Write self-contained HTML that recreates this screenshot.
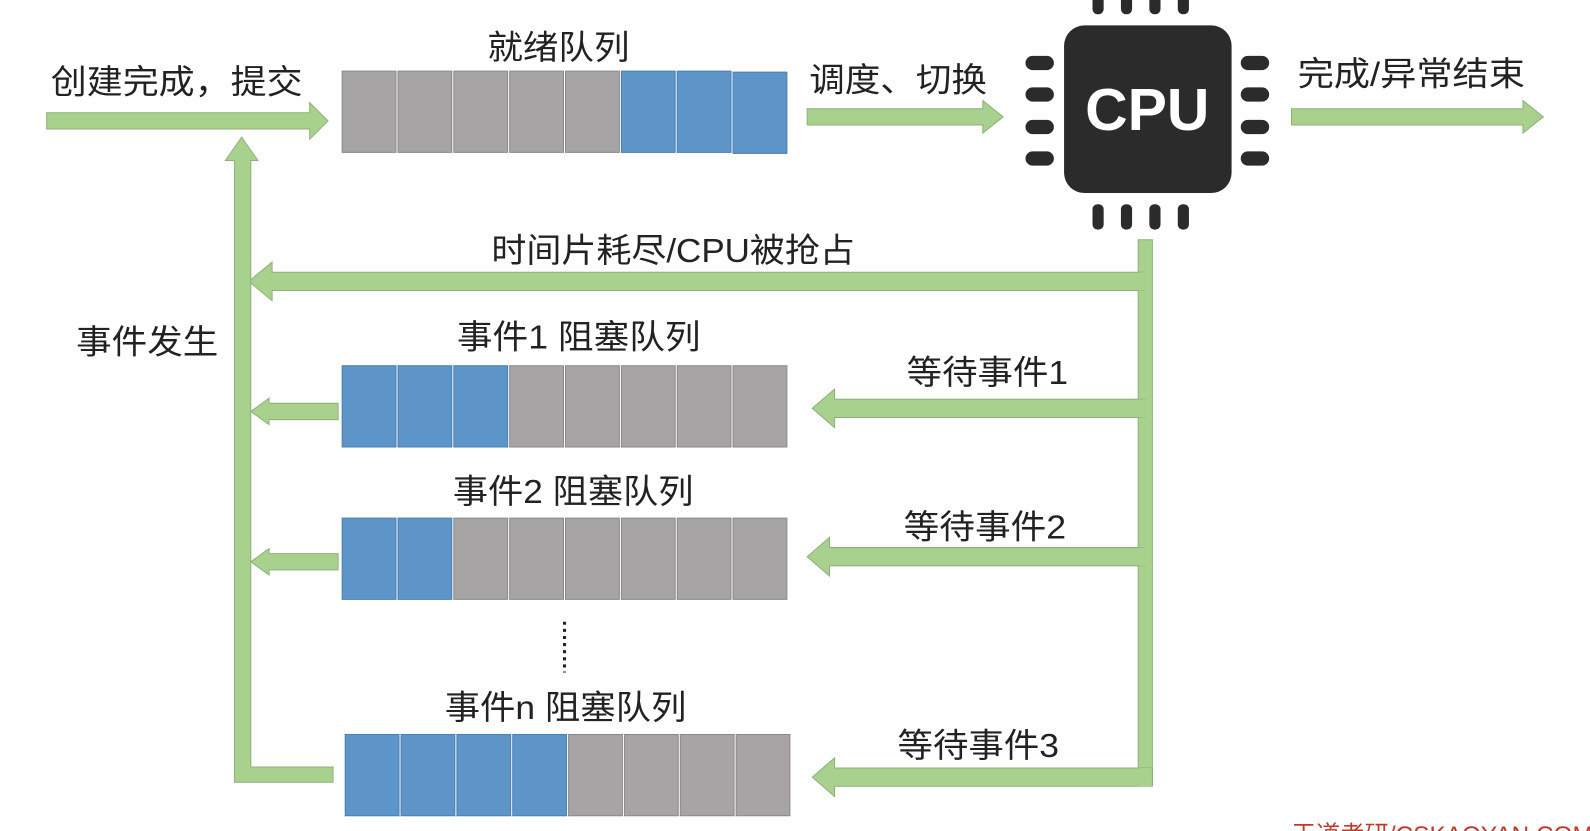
<!DOCTYPE html>
<html><head><meta charset="utf-8"><style>
html,body{margin:0;padding:0;background:#fff;width:1590px;height:831px;overflow:hidden}
svg{display:block}
text{font-family:"Liberation Sans","Noto Sans CJK SC",sans-serif;fill:#222}
</style></head><body>
<svg width="1590" height="831" viewBox="0 0 1566 818" preserveAspectRatio="none">
<defs>
<g id="gray"><rect width="53" height="80" fill="#a6a4a4" stroke="#8a8a8a" stroke-width="1"/></g>
<g id="blue"><rect width="53" height="80" fill="#5d95c9" stroke="#4a7fb0" stroke-width="1"/></g>
</defs>
<g fill="#a9d18e" stroke="#8db07a" stroke-width="1">
<polygon points="46,111 305,111 305,101 323,119 305,137 305,127 46,127"/>
<polygon points="795,107 968,107 968,99 988,115 968,131 968,123 795,123"/>
<polygon points="1272,107 1500,107 1500,99 1520,115 1500,131 1500,123 1272,123"/>
<rect x="1121" y="236" width="14" height="536"/>
<polygon points="245,277 268,258 268,268 1128,268 1128,286 268,286 268,296"/>
<polygon points="800,402 822,383 822,393 1128,393 1128,411 822,411 822,421"/>
<polygon points="795,548 817,529 817,539 1128,539 1128,557 817,557 817,567"/>
<polygon points="800,765 822,746 822,756 1135,756 1135,774 822,774 822,784"/>
<polygon points="247,405 265,392 265,397 333,397 333,413 265,413 265,418"/>
<polygon points="247,553 265,540 265,545 333,545 333,561 265,561 265,566"/>
<polygon points="238,135 254,158 247,158 247,755 328,755 328,770 231,770 231,158 222,158"/>
</g>
<g fill="#a9d18e"><rect x="1122" y="268" width="12" height="18"/><rect x="1122" y="393" width="12" height="18"/><rect x="1122" y="539" width="12" height="18"/><rect x="1122" y="756" width="12" height="18"/></g>
<g transform="translate(337,70)">
<use href="#gray" x="0"/><use href="#gray" x="55"/><use href="#gray" x="110"/><use href="#gray" x="165"/><use href="#gray" x="220"/><use href="#blue" x="275"/><use href="#blue" x="330"/><use href="#blue" x="385" y="1"/>
</g>
<g transform="translate(337,360)">
<use href="#blue" x="0"/><use href="#blue" x="55"/><use href="#blue" x="110"/><use href="#gray" x="165"/><use href="#gray" x="220"/><use href="#gray" x="275"/><use href="#gray" x="330"/><use href="#gray" x="385"/>
</g>
<g transform="translate(337,510)">
<use href="#blue" x="0"/><use href="#blue" x="55"/><use href="#gray" x="110"/><use href="#gray" x="165"/><use href="#gray" x="220"/><use href="#gray" x="275"/><use href="#gray" x="330"/><use href="#gray" x="385"/>
</g>
<g transform="translate(340,723)">
<use href="#blue" x="0"/><use href="#blue" x="55"/><use href="#blue" x="110"/><use href="#blue" x="165"/><use href="#gray" x="220"/><use href="#gray" x="275"/><use href="#gray" x="330"/><use href="#gray" x="385"/>
</g>
<line x1="556" y1="612" x2="556" y2="662" stroke="#222" stroke-width="3" stroke-dasharray="3,4"/>
<g fill="#2b2b2b">
<rect x="1048" y="25" width="165" height="165" rx="20"/>
<rect x="1076" y="-4" width="11" height="18" rx="5"/><rect x="1104" y="-4" width="11" height="18" rx="5"/><rect x="1132" y="-4" width="11" height="18" rx="5"/><rect x="1160" y="-4" width="11" height="18" rx="5"/>
<rect x="1076" y="201" width="11" height="25" rx="5"/><rect x="1104" y="201" width="11" height="25" rx="5"/><rect x="1132" y="201" width="11" height="25" rx="5"/><rect x="1160" y="201" width="11" height="25" rx="5"/>
<rect x="1010" y="55" width="28" height="14" rx="7"/><rect x="1010" y="86" width="28" height="14" rx="7"/><rect x="1010" y="118" width="28" height="14" rx="7"/><rect x="1010" y="149" width="28" height="14" rx="7"/>
<rect x="1222" y="55" width="28" height="14" rx="7"/><rect x="1222" y="86" width="28" height="14" rx="7"/><rect x="1222" y="118" width="28" height="14" rx="7"/><rect x="1222" y="149" width="28" height="14" rx="7"/>
</g>
<text x="1130" y="128" text-anchor="middle" font-size="58" font-weight="bold" style="fill:#fff">CPU</text>
<g font-size="33" lengthAdjust="spacingAndGlyphs">
<text x="50" y="92" textLength="248" lengthAdjust="spacingAndGlyphs">创建完成，提交</text>
<text x="480" y="58" textLength="140" lengthAdjust="spacingAndGlyphs">就绪队列</text>
<text x="797" y="90" textLength="175" lengthAdjust="spacingAndGlyphs">调度、切换</text>
<text x="1278" y="84" textLength="224" lengthAdjust="spacingAndGlyphs">完成/异常结束</text>
<text x="484" y="258" textLength="358" lengthAdjust="spacingAndGlyphs">时间片耗尽/CPU被抢占</text>
<text x="75" y="348" textLength="140" lengthAdjust="spacingAndGlyphs">事件发生</text>
<text x="450" y="343" textLength="240" lengthAdjust="spacingAndGlyphs">事件1 阻塞队列</text>
<text x="893" y="378" textLength="159" lengthAdjust="spacingAndGlyphs">等待事件1</text>
<text x="446" y="495" textLength="237" lengthAdjust="spacingAndGlyphs">事件2 阻塞队列</text>
<text x="890" y="530" textLength="160" lengthAdjust="spacingAndGlyphs">等待事件2</text>
<text x="438" y="708" textLength="238" lengthAdjust="spacingAndGlyphs">事件n 阻塞队列</text>
<text x="884" y="745" textLength="159" lengthAdjust="spacingAndGlyphs">等待事件3</text>
</g>
<text x="1272" y="830" font-size="24" style="fill:#c0392b">王道考研/CSKAOYAN.COM</text>
</svg>
</body></html>
